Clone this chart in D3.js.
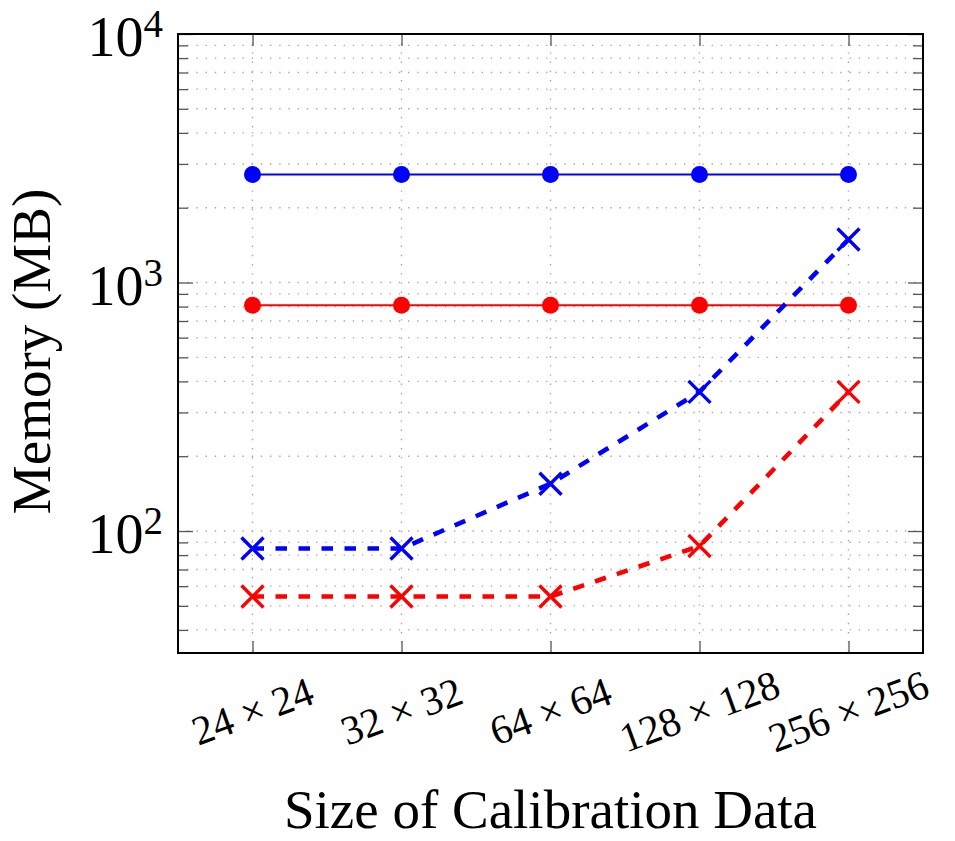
<!DOCTYPE html>
<html>
<head>
<meta charset="utf-8">
<script src="https://cdn.jsdelivr.net/npm/d3@7"></script>
<style>
  body { margin: 0; background: #fff; }
</style>
</head>
<body>
<div id="chart"></div>
<script>
// data
const sizes = ["24 \u00d7 24", "32 \u00d7 32", "64 \u00d7 64", "128 \u00d7 128", "256 \u00d7 256"];
const blueSolid = [2720, 2720, 2720, 2720, 2720];
const redSolid = [810, 810, 810, 810, 810];
const blueDashed = [85, 85, 155, 363, 1490];
const redDashed = [54.5, 54.5, 54.5, 87, 363];
const majorTicks = [100, 1000, 10000];
const majorExp = ["2", "3", "4"];

const series = [
    { values: blueSolid, color: "#0000ff", dashed: false, marker: "circle" },
    { values: redSolid, color: "#ff0000", dashed: false, marker: "circle" },
    { values: blueDashed, color: "#0000ff", dashed: true, marker: "cross" },
    { values: redDashed, color: "#ff0000", dashed: true, marker: "cross" }
];

const serif = "\"Liberation Serif\"";

// plot box
let margin = { top: 34, right: 32, bottom: 188, left: 178 },
    width = 955 - margin.left - margin.right,
    height = 841 - margin.top - margin.bottom;

let svg = d3.select("#chart").append("svg")
    .attr("width", 955)
    .attr("height", 841);

let g = svg.append("g")
    .attr("transform", "translate(" + margin.left + "," + margin.top + ")");

let x = d3.scalePoint()
    .domain(sizes)
    .range([0, width])
    .padding(0.5);

let y = d3.scaleLog()
    .domain([32.3, 10000])
    .range([height, 0]);

// every tick inside the domain (2..9 of each decade)
const allTicks = y.ticks().filter(v => v >= y.domain()[0] && v <= y.domain()[1]);
const minorTicks = allTicks.filter(v => !majorTicks.includes(v));

// dotted grid
const gridStyle = sel => sel
    .attr("stroke", "#a8a8a8")
    .attr("stroke-width", 1.4)
    .attr("stroke-dasharray", "1.4 7.8");

g.append("g").selectAll("line")
    .data(allTicks)
    .enter().append("line")
    .attr("x1", 0).attr("x2", width)
    .attr("y1", d => y(d)).attr("y2", d => y(d))
    .call(gridStyle);

g.append("g").selectAll("line")
    .data(sizes)
    .enter().append("line")
    .attr("x1", d => x(d)).attr("x2", d => x(d))
    .attr("y1", 0).attr("y2", height)
    .call(gridStyle);

// lines
const line = d3.line()
    .x((d, i) => x(sizes[i]))
    .y(d => y(d));

series.forEach(s => {
    g.append("path")
        .datum(s.values)
        .attr("fill", "none")
        .attr("stroke", s.color)
        .attr("stroke-width", s.dashed ? 4.6 : 2)
        .attr("stroke-dasharray", s.dashed ? "11.5 11.5" : null)
        .attr("d", line);
});

// markers
series.forEach(s => {
    let m = g.append("g").selectAll("g")
        .data(s.values)
        .enter().append("g")
        .attr("transform", (d, i) => "translate(" + x(sizes[i]) + "," + y(d) + ")");
    if (s.marker == "circle") {
        m.append("circle")
            .attr("r", 8.5)
            .attr("fill", s.color);
    } else {
        m.append("path")
            .attr("d", "M-11,-11L11,11M-11,11L11,-11")
            .attr("stroke", s.color)
            .attr("stroke-width", 3.4)
            .attr("fill", "none");
    }
});

// inner ticks
const tickStyle = sel => {
    sel.select(".domain").remove();
    sel.selectAll(".tick line").attr("stroke", "#555").attr("stroke-width", 1.3);
    sel.selectAll(".tick text").remove();
};

g.append("g").call(d3.axisLeft(y).tickValues(minorTicks).tickSize(-10).tickFormat("")).call(tickStyle);
g.append("g").call(d3.axisLeft(y).tickValues(majorTicks).tickSize(-15).tickFormat("")).call(tickStyle);
g.append("g").attr("transform", "translate(" + width + ",0)")
    .call(d3.axisRight(y).tickValues(minorTicks).tickSize(-10).tickFormat("")).call(tickStyle);
g.append("g").attr("transform", "translate(" + width + ",0)")
    .call(d3.axisRight(y).tickValues(majorTicks).tickSize(-15).tickFormat("")).call(tickStyle);
g.append("g").attr("transform", "translate(0," + height + ")")
    .call(d3.axisBottom(x).tickSize(-12).tickFormat("")).call(tickStyle);
g.append("g")
    .call(d3.axisTop(x).tickSize(-12).tickFormat("")).call(tickStyle);

// frame
g.append("rect")
    .attr("width", width)
    .attr("height", height)
    .attr("fill", "none")
    .attr("stroke", "#000")
    .attr("stroke-width", 2);

// y tick labels 10^n
let ylab = g.append("g").selectAll("text")
    .data(majorTicks)
    .enter().append("text")
    .attr("x", -15)
    .attr("y", d => y(d) + 22)
    .attr("text-anchor", "end")
    .style("font-family", serif)
    .attr("font-size", 56);
ylab.append("tspan").text("10");
ylab.append("tspan")
    .attr("font-size", 39)
    .attr("dy", -19)
    .text((d, i) => majorExp[i]);

// x tick labels, rotated
g.append("g").selectAll("text")
    .data(sizes)
    .enter().append("text")
    .attr("transform", d => "translate(" + x(d) + "," + (height + 58) + ") rotate(-20)")
    .attr("text-anchor", "middle")
    .attr("dominant-baseline", "central")
    .style("font-family", serif)
    .attr("font-size", 41)
    .text(d => d);

// axis titles
svg.append("text")
    .attr("x", margin.left + width / 2)
    .attr("y", 828)
    .attr("text-anchor", "middle")
    .style("font-family", serif)
    .attr("font-size", 55)
    .text("Size of Calibration Data");

svg.append("text")
    .attr("transform", "translate(50," + (margin.top + height / 2 + 8) + ") rotate(-90)")
    .attr("text-anchor", "middle")
    .style("font-family", serif)
    .attr("font-size", 55)
    .text("Memory (MB)");
</script>
</body>
</html>
